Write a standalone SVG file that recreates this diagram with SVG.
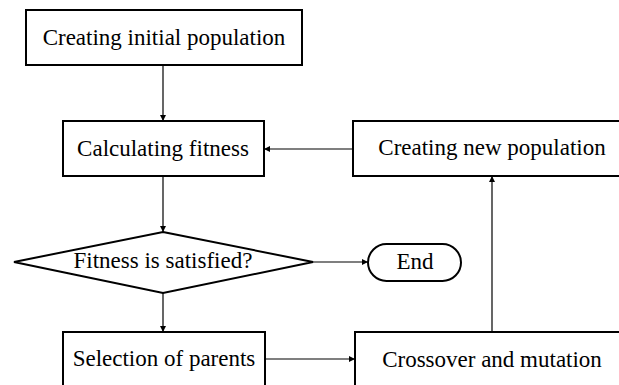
<svg xmlns="http://www.w3.org/2000/svg" width="619" height="385" viewBox="0 0 619 385">
<style>
.n{fill:#fff;stroke:#000;stroke-width:2}
.t{font-family:"Liberation Serif","Times New Roman",serif;font-size:23px;fill:#000;text-anchor:middle}
.c{fill:none;stroke:#000;stroke-width:1.2}
</style>
<defs>
<marker id="a" viewBox="0 0 10 10" refX="10" refY="5" markerWidth="6" markerHeight="6" markerUnits="userSpaceOnUse" orient="auto">
<path d="M0,0 L10,5 L0,10 Z" fill="#000"/>
</marker>
</defs>
<rect width="619" height="385" fill="#fff"/>
<g id="connectors">
<line class="c" x1="163" y1="65" x2="163" y2="121" marker-end="url(#a)"/>
<line class="c" x1="353" y1="149" x2="264" y2="149" marker-end="url(#a)"/>
<line class="c" x1="163" y1="176" x2="163" y2="232" marker-end="url(#a)"/>
<line class="c" x1="313" y1="262" x2="368" y2="262" marker-end="url(#a)"/>
<line class="c" x1="163" y1="293" x2="163" y2="332" marker-end="url(#a)"/>
<line class="c" x1="265" y1="359" x2="355" y2="359" marker-end="url(#a)"/>
<line class="c" x1="492" y1="332" x2="492" y2="176" marker-end="url(#a)"/>
</g>
<g id="start">
<rect class="n" x="26" y="10" width="276" height="55"/>
<text class="t" x="164" y="45">Creating initial population</text>
</g>
<g id="fitness">
<rect class="n" x="63" y="121" width="201" height="55"/>
<text class="t" x="163" y="156">Calculating fitness</text>
</g>
<g id="newpop">
<rect class="n" x="353" y="121" width="280" height="55"/>
<text class="t" x="492" y="155">Creating new population</text>
</g>
<g id="decision">
<polygon class="n" points="163,232 313,262 163,293 14,262"/>
<text class="t" x="163" y="268">Fitness is satisfied?</text>
</g>
<g id="end">
<rect class="n" x="368" y="244" width="93" height="37" rx="18.5"/>
<text class="t" x="415" y="269">End</text>
</g>
<g id="selection">
<rect class="n" x="63" y="332" width="202" height="70"/>
<text class="t" x="164" y="366">Selection of parents</text>
</g>
<g id="crossover">
<rect class="n" x="355" y="332" width="280" height="70"/>
<text class="t" x="492" y="367">Crossover and mutation</text>
</g>
</svg>
